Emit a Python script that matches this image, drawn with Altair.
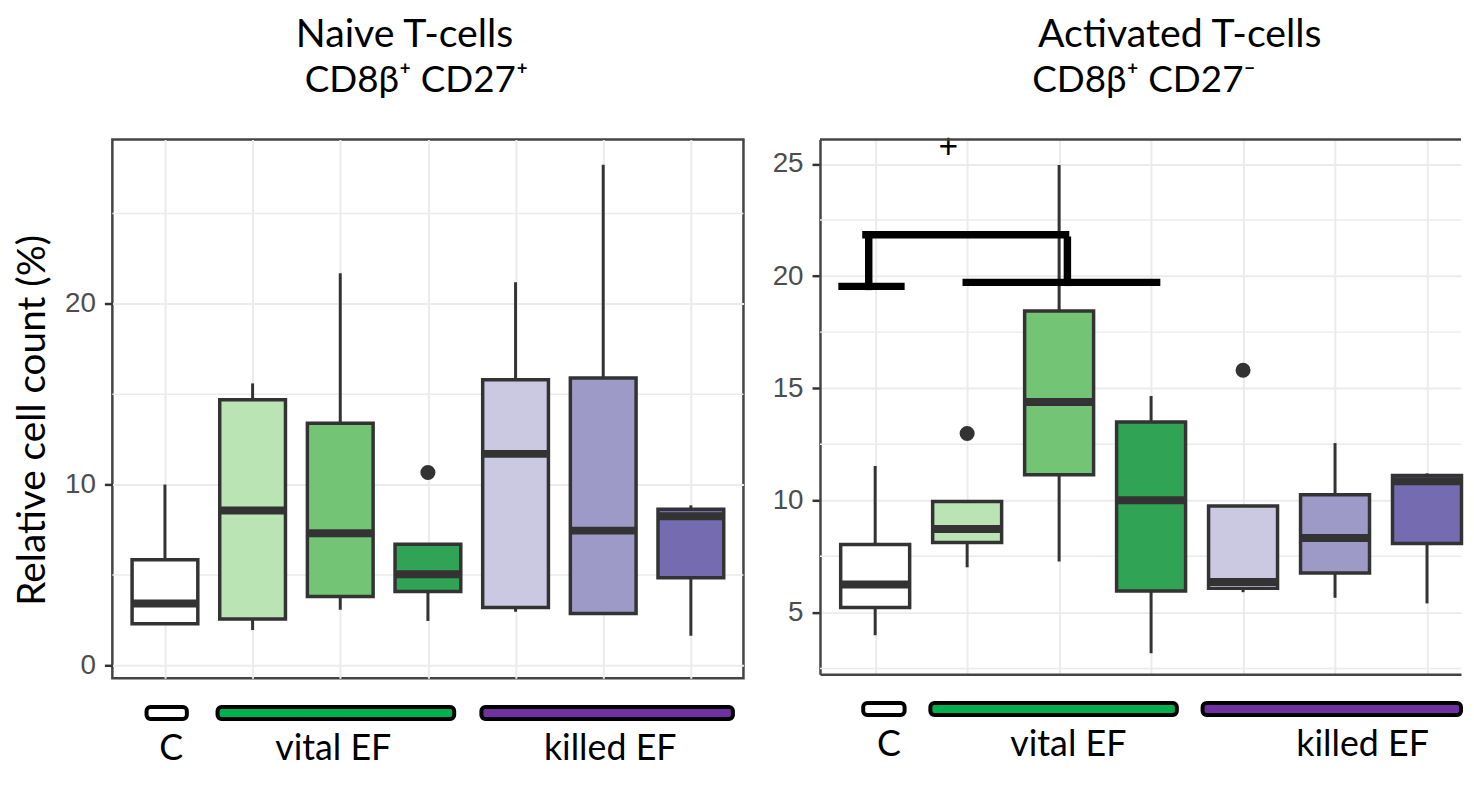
import altair as alt
import pandas as pd

# ---------------- data ----------------
positions = [1, 2, 3, 4, 5, 6, 7]
box_fills = ["#ffffff", "#bae4b3", "#74c476", "#31a354", "#cbc9e2", "#9e9ac8", "#756bb1"]

# Naive T-cells  CD8b+ CD27+
naive_lower = [2.3, 1.95, 3.07, 2.45, 2.96, 2.86, 1.63]
naive_q1 = [2.3, 2.56, 3.8, 4.08, 3.2, 2.86, 4.84]
naive_median = [3.42, 8.57, 7.3, 5.04, 11.7, 7.45, 8.25]
naive_q3 = [5.84, 14.7, 13.4, 6.7, 15.8, 15.9, 8.63]
naive_upper = [10.0, 15.6, 21.7, 6.7, 21.2, 27.7, 8.85]
naive_out_pos = [4]
naive_out_val = [10.67]

# Activated T-cells  CD8b+ CD27-
act_lower = [3.98, 7.01, 7.27, 3.18, 5.9, 5.65, 5.4]
act_q1 = [5.22, 8.12, 11.14, 5.95, 6.07, 6.76, 8.07]
act_median = [6.24, 8.72, 14.38, 10.0, 6.35, 8.32, 10.85]
act_q3 = [8.03, 9.94, 18.44, 13.49, 9.74, 10.25, 11.1]
act_upper = [11.53, 9.94, 24.95, 14.65, 9.74, 12.55, 11.2]
act_out_pos = [2, 5]
act_out_val = [12.98, 15.8]

# significance bracket (right panel), in category / value units
br_x1 = [0.64, 0.93, 0.90, 3.09, 1.99]
br_x2 = [1.28, 0.93, 3.07, 3.09, 4.06]
br_y1 = [19.54, 19.54, 21.84, 21.6, 19.72]
br_y2 = [19.54, 21.84, 21.84, 19.72, 19.72]
plus_x = [1.795]
plus_y = [25.69]

# group legend bars under the plots
group_labels = ["C", "vital EF", "killed EF"]
group_fills = ["#ffffff", "#00b050", "#7030a0"]
naive_grp_start = [0.79, 1.60, 4.61]
naive_grp_end = [1.25, 4.30, 7.48]
naive_grp_mid = [1.07, 2.92, 6.08]
act_grp_start = [0.87, 1.60, 4.56]
act_grp_end = [1.32, 4.28, 7.37]
act_grp_mid = [1.15, 3.10, 6.30]

naive_titles = ["Naive T-cells", "CD8β⁺ CD27⁺"]
act_titles = ["Activated T-cells", "CD8β⁺ CD27⁻"]

naive_major = [0, 10, 20]
naive_minor = [5, 15, 25]
act_major = [5, 10, 15, 20, 25]
act_minor = [2.5, 7.5, 12.5, 17.5, 22.5]

TXT = "Lato, 'Open Sans', 'DejaVu Sans', sans-serif"
NUM = "'Liberation Sans', Arial, sans-serif"
DARK = "#333333"
GRID = "#ebebeb"
BOX_HALF = 0.375


def panel(lower, q1, med, q3, upper, out_pos, out_val, major, minor, ydom, xmax,
          grp_start, grp_end, grp_mid, W, H, titles, title_x1, title_x2, ytitle,
          frame_full, extra=None):
    df = pd.DataFrame({"pos": positions, "lower": lower, "q1": q1, "median": med,
                       "q3": q3, "upper": upper, "fill": box_fills})
    df["lo"] = df["pos"] - BOX_HALF
    df["hi"] = df["pos"] + BOX_HALF
    outs = pd.DataFrame({"pos": out_pos, "val": out_val})
    grp = pd.DataFrame({"start": grp_start, "end": grp_end, "mid": grp_mid,
                        "label": group_labels, "gfill": group_fills})

    xs = alt.Scale(domain=[0.4, xmax], nice=False, zero=False)
    ys = alt.Scale(domain=ydom, nice=False, zero=False)
    xa = alt.Axis(values=positions, grid=True, gridColor=GRID, gridWidth=2,
                  labels=False, ticks=False, title=None,
                  domain=not frame_full, domainColor="#444444", domainWidth=2.5)
    ya_kwargs = dict(values=major, grid=True, gridColor=GRID, gridWidth=2,
                     labelFont=NUM, labelFontSize=28, labelColor="#4d4d4d",
                     labelPadding=9, tickColor=DARK, tickSize=8, tickWidth=2.5,
                     domain=not frame_full, domainColor="#444444", domainWidth=2.5)
    if ytitle:
        ya = alt.Axis(title=ytitle, titleFont=TXT, titleFontSize=39,
                      titleFontWeight="normal", titleColor="black",
                      titlePadding=12, titleY=282, **ya_kwargs)
    else:
        ya = alt.Axis(title=None, **ya_kwargs)

    def X(f):
        return alt.X(f, type="quantitative", scale=xs, axis=xa)

    def Y(f):
        return alt.Y(f, type="quantitative", scale=ys, axis=ya)

    minor_grid = alt.Chart(pd.DataFrame({"v": minor})).mark_rule(
        color=GRID, strokeWidth=1.5).encode(y=Y("v"))
    whisk = alt.Chart(df).mark_rule(color=DARK, strokeWidth=3).encode(
        x=X("pos"), y=Y("lower"), y2="upper")
    box = alt.Chart(df).mark_rect(stroke=DARK, strokeWidth=3.5).encode(
        x=X("lo"), x2="hi", y=Y("q1"), y2="q3",
        fill=alt.Fill("fill:N", scale=None))
    medl = alt.Chart(df).mark_rule(color=DARK, strokeWidth=8).encode(
        x=X("lo"), x2="hi", y=Y("median"))
    outl = alt.Chart(outs).mark_circle(size=230, color=DARK, opacity=1).encode(
        x=X("pos"), y=Y("val"))
    bars = alt.Chart(grp).mark_rect(stroke="black", strokeWidth=4, cornerRadius=4).encode(
        x=X("start"), x2="end", y=alt.value(H + 29), y2=alt.value(H + 41),
        fill=alt.Fill("gfill:N", scale=None))
    labs = alt.Chart(grp).mark_text(font=TXT, fontSize=36, baseline="middle",
                                    color="black").encode(
        x=X("mid"), y=alt.value(H + 71), text="label:N")

    tdf = pd.DataFrame({"t": titles, "row": [0, 1]})
    t1 = alt.Chart(tdf).transform_filter("datum.row == 0").mark_text(
        font=TXT, fontSize=39.5, baseline="middle", color="black").encode(
        x=alt.value(title_x1), y=alt.value(-105), text="t:N")
    t2 = alt.Chart(tdf).transform_filter("datum.row == 1").mark_text(
        font=TXT, fontSize=37, baseline="middle", color="black").encode(
        x=alt.value(title_x2), y=alt.value(-59), text="t:N")

    layers = [minor_grid, whisk, box, medl, outl, bars, labs, t1, t2]
    if extra is not None:
        layers += extra(X, Y, W)

    view = (alt.ViewBackground(stroke="#444444", strokeWidth=2.5) if frame_full
            else alt.ViewBackground(stroke="transparent"))
    return alt.layer(*layers).properties(width=W, height=H, view=view)


def act_extra(X, Y, W):
    br = pd.DataFrame({"x1": br_x1, "x2": br_x2, "y1": br_y1, "y2": br_y2})
    bracket = alt.Chart(br).mark_rule(color="black", strokeWidth=7.5,
                                      strokeCap="square").encode(
        x=X("x1"), x2="x2", y=Y("y1"), y2="y2")
    plus = alt.Chart(pd.DataFrame({"x": plus_x, "y": plus_y, "t": ["+"]})).mark_text(
        font=TXT, fontSize=34, color="black", baseline="middle").encode(
        x=X("x"), y=Y("y"), text="t:N")
    top = alt.Chart(pd.DataFrame({"a": [0]})).mark_rule(
        color="#444444", strokeWidth=2.5).encode(
        x=alt.value(0), x2=alt.value(W), y=alt.value(0))
    return [bracket, plus, top]


left = panel(naive_lower, naive_q1, naive_median, naive_q3, naive_upper,
             naive_out_pos, naive_out_val, naive_major, naive_minor,
             [-0.72, 29.1], 7.6, naive_grp_start, naive_grp_end, naive_grp_mid,
             635, 542, naive_titles, 294, 306,
             "Relative cell count  (%)", True)

right = panel(act_lower, act_q1, act_median, act_q3, act_upper,
              act_out_pos, act_out_val, act_major, act_minor,
              [2.24, 26.09], 7.37, act_grp_start, act_grp_end, act_grp_mid,
              645, 538, act_titles, 362, 326,
              None, False, extra=act_extra)

chart = alt.hconcat(left, right, spacing=26).properties(
    padding={"left": 4, "top": 3, "right": 0, "bottom": 0}
).configure(background="white")

chart.save("out.html", embed_options={"renderer": "svg", "actions": False})
